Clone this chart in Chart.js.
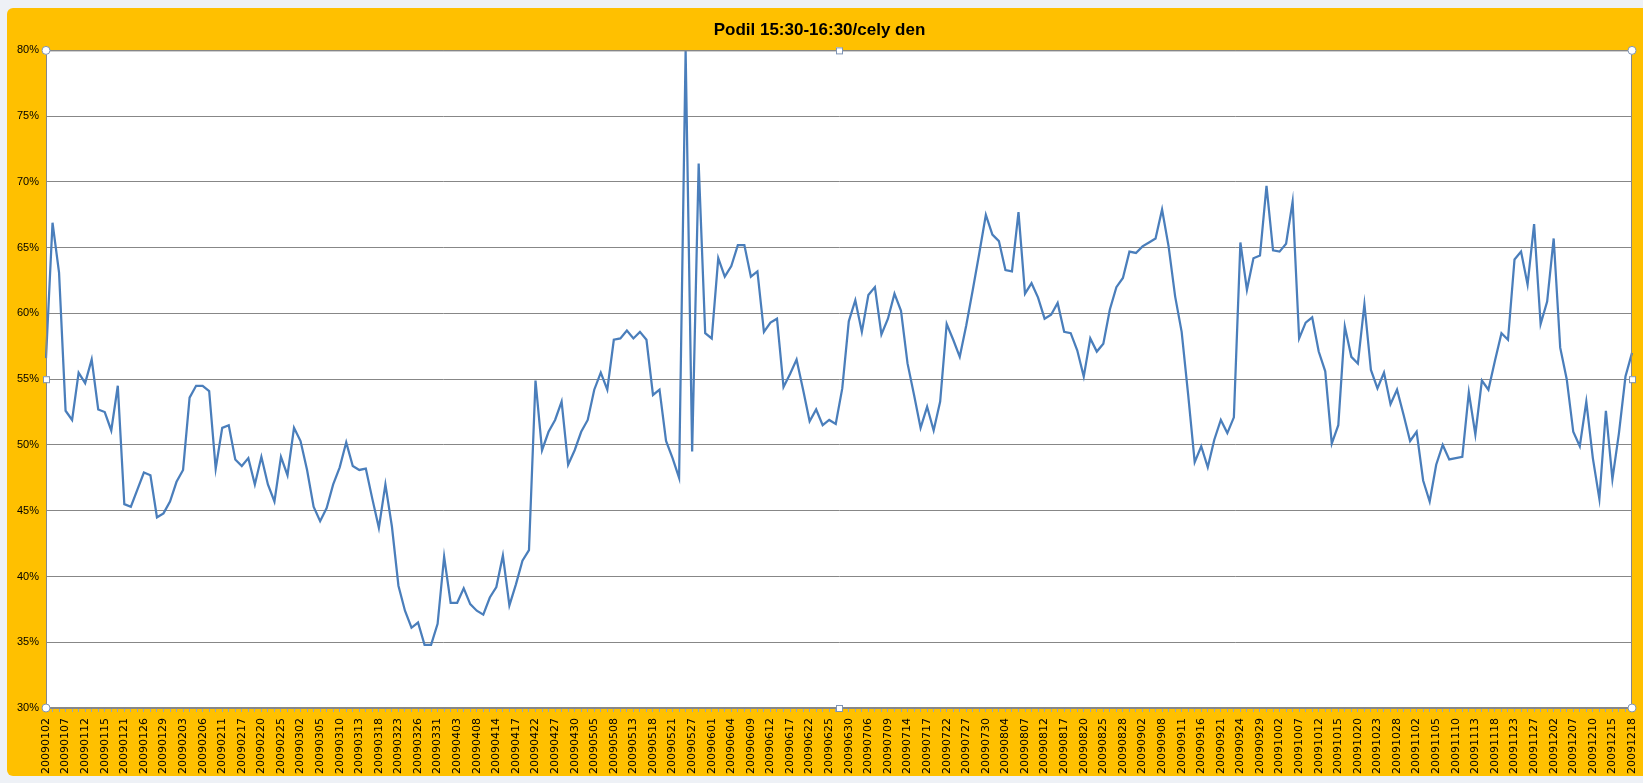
<!DOCTYPE html>
<html>
<head>
<meta charset="utf-8">
<title>Podil 15:30-16:30/cely den</title>
<script src="https://cdn.jsdelivr.net/npm/chart.js@4.4.1/dist/chart.umd.min.js"></script>
<style>
  html, body { margin: 0; padding: 0; }
  body { width: 1643px; height: 783px; overflow: hidden; position: relative; background: #eef1f6; }
  #frame {
    position: absolute; left: 7px; top: 8px; width: 1636px; height: 768px;
    background: #ffc000; border-radius: 6px 0 0 6px;
  }
</style>
</head>
<body>
<div id="frame"><canvas id="chart"></canvas></div>
<script>
/* ---------- data: trading days 2009, share of 15:30-16:30 in whole day (%) ---------- */
const dates = [
  '20090102','20090105','20090106','20090107','20090108','20090109','20090112','20090113','20090114','20090115',
  '20090116','20090120','20090121','20090122','20090123','20090126','20090127','20090128','20090129','20090130',
  '20090202','20090203','20090204','20090205','20090206','20090209','20090210','20090211','20090212','20090213',
  '20090217','20090218','20090219','20090220','20090223','20090224','20090225','20090226','20090227',
  '20090302','20090303','20090304','20090305','20090306','20090309','20090310','20090311','20090312','20090313',
  '20090316','20090317','20090318','20090319','20090320','20090323','20090324','20090325','20090326','20090327',
  '20090330','20090331',
  '20090401','20090402','20090403','20090406','20090407','20090408','20090409','20090413','20090414','20090415',
  '20090416','20090417','20090420','20090421','20090422','20090423','20090424','20090427','20090428','20090429',
  '20090430',
  '20090501','20090504','20090505','20090506','20090507','20090508','20090511','20090512','20090513','20090514',
  '20090515','20090518','20090519','20090520','20090521','20090522','20090526','20090527','20090528','20090529',
  '20090601','20090602','20090603','20090604','20090605','20090608','20090609','20090610','20090611','20090612',
  '20090615','20090616','20090617','20090618','20090619','20090622','20090623','20090624','20090625','20090626',
  '20090629','20090630',
  '20090701','20090702','20090706','20090707','20090708','20090709','20090710','20090713','20090714','20090715',
  '20090716','20090717','20090720','20090721','20090722','20090723','20090724','20090727','20090728','20090729',
  '20090730','20090731',
  '20090803','20090804','20090805','20090806','20090807','20090810','20090811','20090812','20090813','20090814',
  '20090817','20090818','20090819','20090820','20090821','20090824','20090825','20090826','20090827','20090828',
  '20090831',
  '20090901','20090902','20090903','20090904','20090908','20090909','20090910','20090911','20090914','20090915',
  '20090916','20090917','20090918','20090921','20090922','20090923','20090924','20090925','20090928','20090929',
  '20090930',
  '20091001','20091002','20091005','20091006','20091007','20091008','20091009','20091012','20091013','20091014',
  '20091015','20091016','20091019','20091020','20091021','20091022','20091023','20091026','20091027','20091028',
  '20091029','20091030',
  '20091102','20091103','20091104','20091105','20091106','20091109','20091110','20091111','20091112','20091113',
  '20091116','20091117','20091118','20091119','20091120','20091123','20091124','20091125','20091127','20091130',
  '20091201','20091202','20091203','20091204','20091207','20091208','20091209','20091210','20091211','20091214',
  '20091215','20091216','20091217','20091218'
];

const podil = [
  56.6, 66.9, 63.1, 52.6, 51.9, 55.5, 54.7, 56.5, 52.7, 52.5, 51.1, 54.5, 45.5, 45.3, 46.6, 47.9,
  47.7, 44.5, 44.8, 45.7, 47.2, 48.1, 53.6, 54.5, 54.5, 54.1, 48.2, 51.3, 51.5, 48.9, 48.4, 49.0,
  47.0, 49.1, 47.0, 45.7, 49.1, 47.7, 51.3, 50.3, 48.1, 45.3, 44.2, 45.2, 47.0, 48.3, 50.2, 48.4,
  48.1, 48.2, 45.9, 43.7, 47.0, 43.8, 39.3, 37.4, 36.1, 36.5, 34.8, 34.8, 36.4, 41.5,
  38.0, 38.0, 39.1, 37.9, 37.4, 37.1, 38.4, 39.2, 41.6, 37.8, 39.4, 41.2, 42.0, 54.9, 49.6, 51.0,
  51.9, 53.3, 48.5, 49.6, 51.0, 51.9, 54.2, 55.5, 54.2, 58.0, 58.1, 58.7, 58.1, 58.6, 58.0,
  53.8, 54.2, 50.3, 49.0, 47.5, 80.0, 49.5, 71.4, 58.5, 58.1, 64.2, 62.8, 63.6, 65.2, 65.2, 62.8,
  63.2, 58.6, 59.3, 59.6, 54.4, 55.4, 56.5, 54.2, 51.8, 52.7, 51.5, 51.9, 51.6, 54.3, 59.4,
  61.0, 58.6, 61.4, 62.0, 58.4, 59.6, 61.5, 60.2, 56.2, 53.8, 51.3, 52.9, 51.1, 53.3, 59.2, 58.0,
  56.7, 59.1, 61.8, 64.6, 67.5, 66.0, 65.5, 63.3, 63.2, 67.7, 61.5, 62.3, 61.2, 59.6, 59.9,
  60.8, 58.6, 58.5, 57.2, 55.2, 58.1, 57.1, 57.7, 60.3, 62.0, 62.7, 64.7, 64.6, 65.1, 65.4, 65.7,
  67.9, 65.1, 61.3, 58.6, 53.8, 48.7, 49.9, 48.3, 50.4, 51.9, 50.9, 52.1, 65.4, 61.8,
  64.2, 64.4, 69.7, 64.8, 64.7, 65.3, 68.5, 58.1, 59.3, 59.7, 57.1, 55.6, 50.1, 51.5, 59.0, 56.7,
  56.2, 60.7, 55.7, 54.3, 55.5, 53.1, 54.2, 52.3, 50.3, 51.0, 47.3, 45.7, 48.5, 50.0, 48.9,
  49.0, 49.1, 54.0, 50.8, 54.9, 54.2, 56.4, 58.5, 58.0, 64.1, 64.7, 62.2, 66.8, 59.2, 60.9, 65.7,
  57.4, 55.0, 51.0, 49.9, 53.3, 49.0, 45.9, 52.6, 47.4, 50.9, 55.2, 57.0
];

const yMin = 30, yMax = 80, yStep = 5;
const labelStep = 3;   // every third date is labelled

/* ---------- white plot area, border and Excel selection handles ---------- */
const plotFrame = {
  id: 'plotFrame',
  beforeDraw(chart) {
    const { ctx, chartArea: a } = chart;
    ctx.save();
    ctx.fillStyle = '#ffffff';
    ctx.fillRect(a.left, a.top, a.right - a.left, a.bottom - a.top);
    ctx.restore();
  },
  afterDraw(chart) {
    const { ctx, chartArea: a } = chart;
    ctx.save();
    ctx.strokeStyle = '#878787';
    ctx.lineWidth = 1;
    ctx.strokeRect(a.left + 0.5, a.top + 0.5, a.right - a.left - 1, a.bottom - a.top - 1);
    const mx = (a.left + a.right) / 2, my = (a.top + a.bottom) / 2;
    ctx.fillStyle = '#ffffff';
    ctx.strokeStyle = '#7f95b5';
    [[a.left, a.top], [a.right, a.top], [a.left, a.bottom], [a.right, a.bottom]].forEach(([x, y]) => {
      ctx.beginPath();
      ctx.arc(x, y, 4, 0, Math.PI * 2);
      ctx.fill(); ctx.stroke();
    });
    [[mx, a.top], [mx, a.bottom], [a.left, my], [a.right, my]].forEach(([x, y]) => {
      ctx.fillRect(x - 3, y - 3, 6, 6);
      ctx.strokeRect(x - 3 + 0.5, y - 3 + 0.5, 6, 6);
    });
    ctx.restore();
  }
};

new Chart(document.getElementById('chart'), {
  type: 'line',
  data: {
    labels: dates,
    datasets: [{
      label: 'Podil',
      data: podil,
      borderColor: '#4a7ebb',
      borderWidth: 2.25,
      pointRadius: 0,
      tension: 0,
      fill: false
    }]
  },
  options: {
    responsive: true,
    maintainAspectRatio: false,
    animation: false,
    layout: { padding: { top: 3, right: 11, left: 0, bottom: 0 } },
    plugins: {
      legend: { display: false },
      tooltip: { enabled: false },
      title: {
        display: true,
        text: 'Podil 15:30-16:30/cely den',
        color: '#000',
        font: { family: 'Liberation Sans', size: 17, weight: 'bold' },
        padding: { top: 9, bottom: 10 }
      }
    },
    scales: {
      x: {
        offset: false,
        ticks: {
          autoSkip: false,
          minRotation: 90,
          maxRotation: 90,
          padding: 6,
          color: '#000',
          font: { family: 'DejaVu Sans', size: 11 },
          callback(v, i) { return i % labelStep === 0 ? this.getLabelForValue(v) : ''; }
        },
        grid: { drawOnChartArea: false, tickLength: 4, color: '#8ea4c8' },
        border: { color: '#878787' },
        afterFit(s) { s.height = 68; s.paddingLeft = 0; s.paddingRight = 0; }
      },
      y: {
        min: yMin,
        max: yMax,
        ticks: {
          stepSize: yStep,
          padding: 7,
          color: '#000',
          font: { family: 'Liberation Sans', size: 11 },
          callback: v => v + '%'
        },
        grid: { color: '#878787', lineWidth: 1, drawTicks: false },
        border: { color: '#878787' },
        afterFit(s) { s.width = 39; }
      }
    }
  },
  plugins: [plotFrame]
});
</script>
</body>
</html>
